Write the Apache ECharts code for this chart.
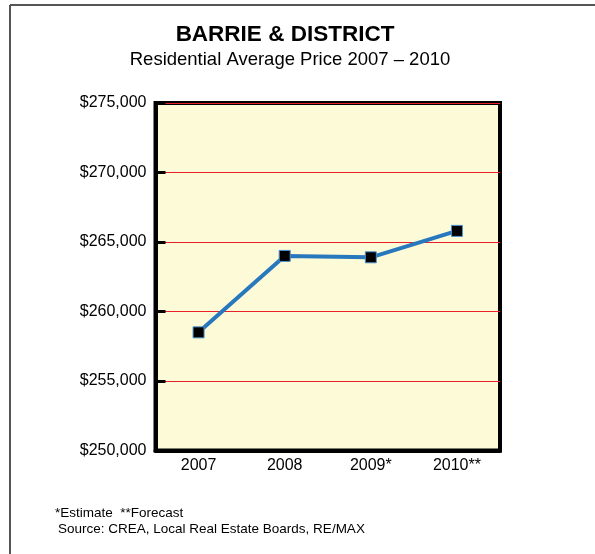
<!DOCTYPE html>
<html>
<head>
<meta charset="utf-8">
<script src="https://cdn.jsdelivr.net/npm/echarts@6/dist/echarts.min.js"></script>
<style>
  html, body { margin: 0; padding: 0; background: #fff; }
  #main { width: 595px; height: 554px; }
</style>
</head>
<body>
<div id="main"></div>
<script>
// data
var years = ['2007', '2008', '2009*', '2010**'];
var avgPrice = [258500, 264000, 263900, 265800];
var yMin = 250000, yMax = 275000, yStep = 5000;

var font = "'Liberation Sans', Arial, Helvetica, sans-serif";

var chart = echarts.init(document.getElementById('main'));

function money(v) {
    return '$' + v.toString().replace(/\B(?=(\d{3})+(?!\d))/g, ',');
}

var option = {
    animation: false,
    backgroundColor: '#fff',
    title: [{
        text: 'BARRIE & DISTRICT',
        left: 280, top: 18, textAlign: 'center',
        textStyle: { fontFamily: font, fontSize: 22.5, fontWeight: 'bold', color: '#000' }
    }, {
        text: 'Residential Average Price 2007 \u2013 2010',
        left: 285, top: 45, textAlign: 'center',
        textStyle: { fontFamily: font, fontSize: 18.5, fontWeight: 'normal', color: '#000' }
    }],
    grid: {
        left: 155.5, right: 95, top: 103, bottom: 103.5,
        show: true,
        backgroundColor: '#FDFAD8',
        borderColor: '#000',
        borderWidth: 4
    },
    xAxis: {
        type: 'category',
        data: years,
        boundaryGap: true,
        axisLine: { lineStyle: { color: '#000', width: 4 } },
        axisTick: { inside: true, length: 10, lineStyle: { color: '#000', width: 3 } },
        axisLabel: { fontFamily: font, fontSize: 16, color: '#000', margin: 7 },
        splitLine: { show: false }
    },
    yAxis: {
        type: 'value',
        min: yMin, max: yMax, interval: yStep,
        axisLine: { show: true, lineStyle: { color: '#000', width: 4 } },
        axisTick: { show: true, inside: true, length: 10, lineStyle: { color: '#000', width: 3 } },
        axisLabel: { fontFamily: font, fontSize: 16, color: '#000', margin: 9, formatter: money },
        splitLine: { show: true, lineStyle: { color: '#E8202A', width: 1 } }
    },
    series: [{
        type: 'line',
        data: avgPrice,
        symbol: 'rect',
        symbolSize: 11,
        lineStyle: { color: '#2878BE', width: 4 },
        itemStyle: { color: '#000', borderColor: '#4D92CC', borderWidth: 1 }
    }],
    graphic: [
        { type: 'line', shape: { x1: 10, y1: 5, x2: 595, y2: 5 }, style: { stroke: '#555', lineWidth: 2 } },
        { type: 'line', shape: { x1: 10, y1: 5, x2: 10, y2: 554 }, style: { stroke: '#555', lineWidth: 2 } },
        { type: 'text', left: 55, top: 506, style: { text: '*Estimate  **Forecast', font: '13.5px ' + font, fill: '#000' } },
        { type: 'text', left: 58, top: 522, style: { text: 'Source: CREA, Local Real Estate Boards, RE/MAX', font: '13.5px ' + font, fill: '#000' } }
    ]
};

chart.setOption(option);
</script>
</body>
</html>
